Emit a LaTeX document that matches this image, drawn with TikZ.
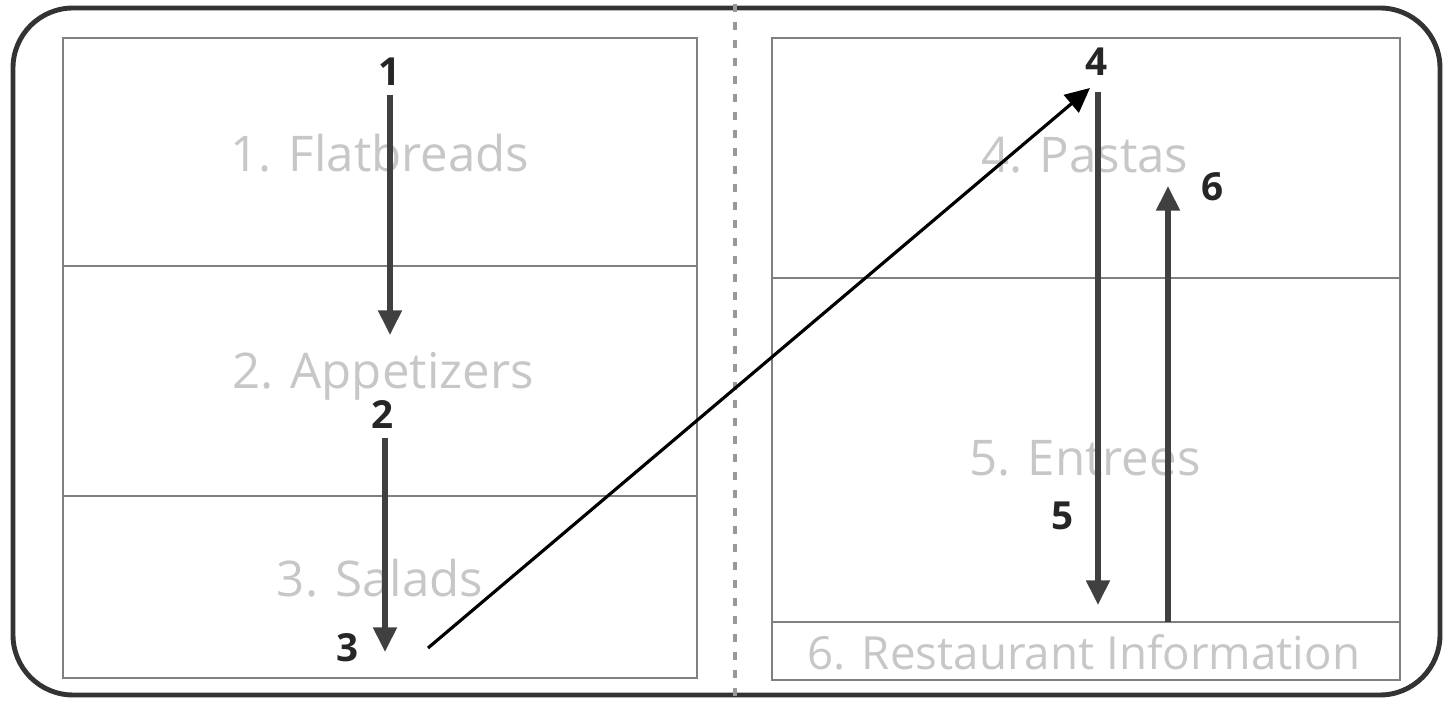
\documentclass[tikz,border=0pt]{standalone}
\usepackage{fontspec}
\setmainfont{Open Sans}
\usepackage{tikz}
\usetikzlibrary{arrows.meta}

\begin{document}
\begin{tikzpicture}[
    panel/.style={draw=black!50, line width=0.7pt},
    section/.style={text=black!22, font=\fontsize{14}{16}\selectfont},
    num/.style={font=\bfseries\fontsize{11}{13}\selectfont, text=black!85, inner sep=1pt},
    flow/.style={draw=black!75, line width=1.5pt, -{Triangle[length=7pt, width=6.5pt]}},
    jump/.style={draw=black, line width=0.9pt, -{Triangle[length=7pt, width=6.5pt]}}
]
    \useasboundingbox (0,0) rectangle (14.51,7.04);

    % --- Menu cover ---
    \draw[black!80, line width=1.4pt, rounded corners=0.6cm] (0.13,0.09) rectangle (14.40,6.96);
    \draw[black!40, line width=1pt, dash pattern=on 0.08cm off 0.1cm] (7.35,7.00) -- (7.35,0.04);

    % --- Left page ---
    \draw[panel] (0.63,0.26) rectangle (6.97,6.66);
    \draw[panel] (0.63,4.38) -- (6.97,4.38);
    \draw[panel] (0.63,2.08) -- (6.97,2.08);
    \node[section] (flat)  at (3.80,5.51) {1. Flatbreads};
    \node[section] (appet) at (3.83,3.28) {2. Appetizers};
    \node[section] (salad) at (3.80,1.26) {3. Salads};

    % --- Right page ---
    \draw[panel] (7.72,0.24) rectangle (14.00,6.66);
    \draw[panel] (7.72,4.26) -- (14.00,4.26);
    \draw[panel] (7.72,0.82) -- (14.00,0.82);
    \node[section] (pasta)  at (10.85,5.49) {4. Pastas};
    \node[section] (entree) at (10.85,2.46) {5. Entrees};
    \node[section, font=\fontsize{13}{15}\selectfont] (info) at (10.84,0.52) {6. Restaurant Information};

    % --- Reading order ---
    \node[num] (n1) at (3.90,6.32) {1};
    \node[num] (n2) at (3.83,2.89) {2};
    \node[num] (n3) at (3.48,0.56) {3};
    \node[num] (n4) at (10.97,6.42) {4};
    \node[num] (n5) at (10.63,1.88) {5};
    \node[num] (n6) at (12.13,5.17) {6};

    \coordinate (a1s) at (3.90,6.09);
    \coordinate (a1e) at (3.90,3.69);
    \coordinate (a2s) at (3.85,2.66);
    \coordinate (a2e) at (3.85,0.52);
    \coordinate (a3s) at (4.28,0.56);
    \coordinate (a3e) at (10.90,6.16);
    \coordinate (a5s) at (10.98,6.12);
    \coordinate (a5e) at (10.98,0.99);
    \coordinate (a6s) at (11.68,0.82);
    \coordinate (a6e) at (11.68,5.18);

    \draw[flow] (a1s) -- (a1e);
    \draw[flow] (a2s) -- (a2e);
    \draw[jump] (a3s) -- (a3e);
    \draw[flow] (a5s) -- (a5e);
    \draw[flow] (a6s) -- (a6e);
\end{tikzpicture}
\end{document}
